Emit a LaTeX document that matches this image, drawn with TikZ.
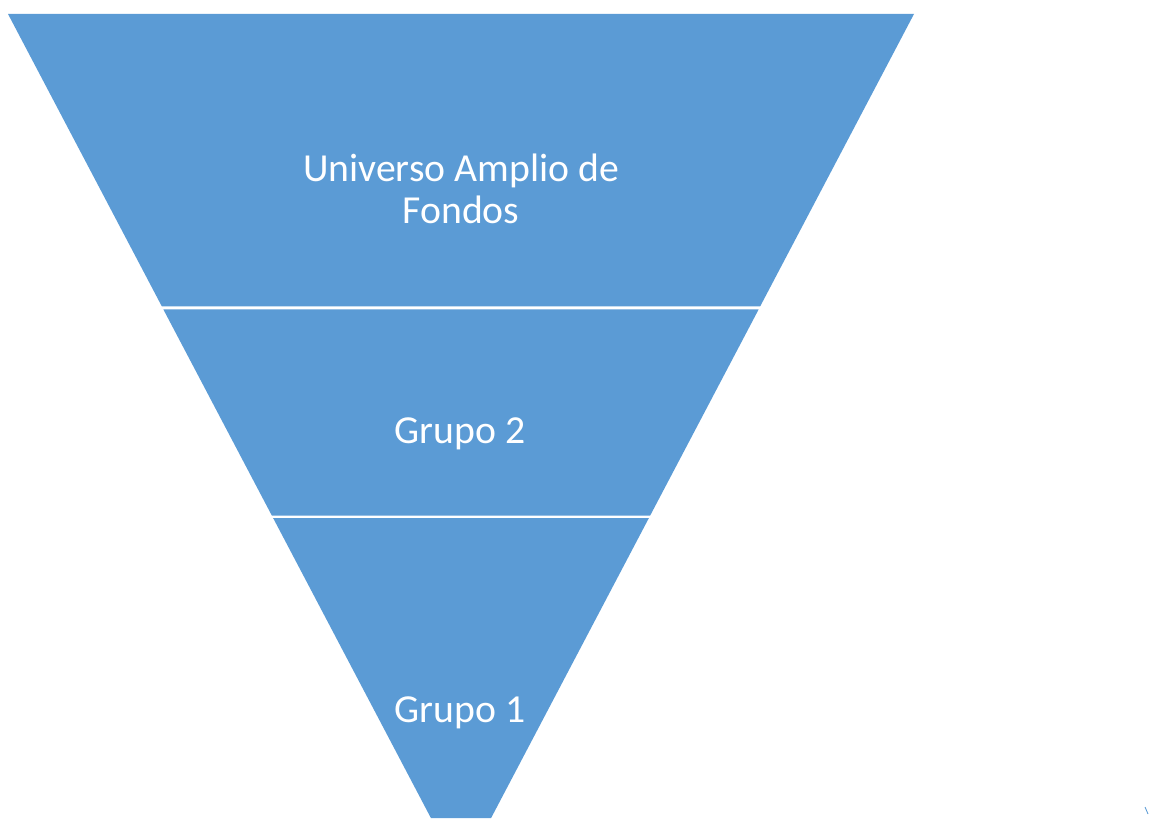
\documentclass[tikz,border=0pt]{standalone}
\usepackage{fontspec}
\setmainfont{Carlito}
\definecolor{funnelblue}{HTML}{5B9BD5}
\begin{document}
\begin{tikzpicture}[x=0.02cm,y=-0.02cm]
		\useasboundingbox (0,0) rectangle (1149,820);
		% Draw bands
		\fill [funnelblue] (8,14) -- (914,14) -- (760.1,306.5) -- (161.9,306.5) -- cycle;
		\fill [funnelblue] (163.4,309.5) -- (758.6,309.5) -- (650.2,515.5) -- (271.8,515.5) -- cycle;
		\fill [funnelblue] (273.1,518) -- (648.9,518) -- (491.1,818) -- (430.9,818) -- cycle;
		% Draw labels
		\node [white, font=\fontsize{22.6}{24}\selectfont, align=center] (universo) at (461,189) {Universo Amplio de\\Fondos};
		\node [white, font=\fontsize{22.6}{24}\selectfont] (grupo2) at (460,434) {Grupo 2};
		\node [white, font=\fontsize{22.6}{24}\selectfont] (grupo1) at (460,713) {Grupo 1};
		% Stray mark
		\draw [funnelblue, line width=0.5pt] (1145,807) -- (1148,814);
	\end{tikzpicture}
\end{document}
